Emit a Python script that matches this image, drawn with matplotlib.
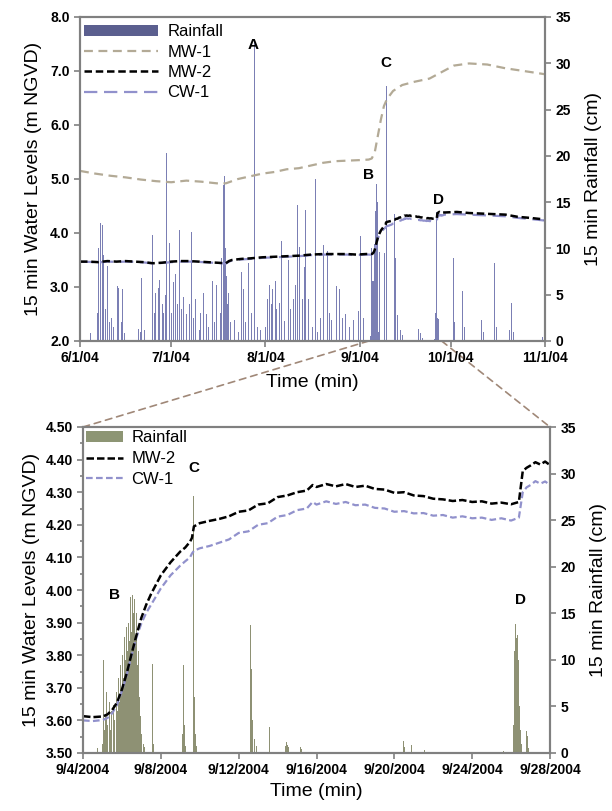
import numpy as np
import pandas as pd
import matplotlib
matplotlib.use("Agg")
import matplotlib.pyplot as plt
import matplotlib.dates as mdates
from matplotlib.patches import Patch, ConnectionPatch
from matplotlib.lines import Line2D
from matplotlib.ticker import FuncFormatter, MultipleLocator

plt.rcParams['font.family'] = ['Liberation Sans', 'DejaVu Sans']

# ---------------- DATA ----------------
top_start = "2004-06-01"
bot_start = "2004-09-04"
bot_offset_days = 95  # 9/4 relative to 6/1

# Top chart water levels (days since 6/1/04, m NGVD)
mw1_days = [0, 5, 10, 15, 20, 25, 30, 35, 40, 45, 48, 52, 56, 60, 64, 68, 72, 76, 80, 84, 88, 92,
            95, 96, 97, 98, 99, 100, 101, 103, 106, 110, 115, 119, 123, 128, 134, 140, 146, 153]
mw1_vals = [5.15, 5.10, 5.06, 5.03, 4.99, 4.96, 4.94, 4.97, 4.95, 4.92, 4.92, 5.00, 5.05, 5.10, 5.13,
            5.18, 5.20, 5.25, 5.30, 5.33, 5.34, 5.35, 5.36, 5.38, 5.50, 5.80, 6.10, 6.35, 6.48, 6.63,
            6.74, 6.80, 6.86, 6.98, 7.10, 7.14, 7.12, 7.05, 7.00, 6.94]

mw2_early_days = [0, 3, 6, 9, 12, 15, 18, 21, 24, 27, 30, 33, 36, 39, 42, 45, 48, 49, 50, 53, 56,
                  60, 64, 68, 72, 76, 80, 84, 88, 91, 94]
mw2_early_vals = [3.47, 3.47, 3.46, 3.48, 3.47, 3.48, 3.47, 3.46, 3.44, 3.45, 3.47, 3.48, 3.48, 3.47,
                  3.46, 3.45, 3.44, 3.48, 3.50, 3.52, 3.53, 3.55, 3.56, 3.57, 3.58, 3.60, 3.61, 3.61,
                  3.61, 3.60, 3.61]
cw1_early_vals = [3.465, 3.465, 3.455, 3.47, 3.465, 3.47, 3.465, 3.455, 3.435, 3.445, 3.46, 3.47,
                  3.47, 3.465, 3.455, 3.445, 3.435, 3.47, 3.49, 3.51, 3.52, 3.54, 3.55, 3.56, 3.57,
                  3.59, 3.60, 3.60, 3.60, 3.59, 3.60]

late_days = [120, 124, 128, 132, 136, 140, 144, 148, 153]
mw2_late_vals = [4.38, 4.39, 4.37, 4.36, 4.35, 4.34, 4.30, 4.28, 4.25]
cw1_late_vals = [4.34, 4.35, 4.34, 4.33, 4.32, 4.31, 4.28, 4.26, 4.23]

# Bottom chart water levels (days since 9/4/04)
bot_days = [0.0, 0.5, 1.0, 1.25, 1.5, 1.75, 2.0, 2.25, 2.5, 2.75, 3.0, 3.25, 3.5, 4.0, 4.5, 5.0,
            5.25, 5.5, 5.6, 5.7, 6.0, 6.5, 7.0, 7.5, 8.0, 8.5, 9.0, 9.5, 10.0, 10.5, 11.0, 11.5,
            11.8, 12.0, 12.5, 13.0, 13.5, 14.0, 14.5, 15.0, 15.5, 16.0, 16.5, 17.0, 17.5, 18.0,
            18.5, 19.0, 19.5, 20.0, 20.5, 21.0, 21.5, 22.0, 22.4, 22.6, 22.8, 23.0, 23.25, 23.5,
            23.75, 24.0]
mw2_bot_vals = [3.613, 3.610, 3.612, 3.618, 3.632, 3.655, 3.695, 3.745, 3.805, 3.862, 3.915, 3.955,
                3.988, 4.045, 4.085, 4.118, 4.130, 4.148, 4.160, 4.195, 4.205, 4.212, 4.218, 4.226,
                4.240, 4.244, 4.262, 4.266, 4.285, 4.290, 4.300, 4.305, 4.322, 4.316, 4.325, 4.318,
                4.325, 4.316, 4.320, 4.310, 4.308, 4.298, 4.300, 4.290, 4.288, 4.280, 4.278, 4.273,
                4.276, 4.270, 4.272, 4.265, 4.268, 4.263, 4.270, 4.365, 4.375, 4.382, 4.392, 4.385,
                4.394, 4.383]
cw1_bot_vals = [3.600, 3.598, 3.601, 3.607, 3.622, 3.648, 3.690, 3.740, 3.800, 3.855, 3.898, 3.930,
                3.955, 4.005, 4.045, 4.075, 4.088, 4.100, 4.112, 4.120, 4.128, 4.135, 4.145, 4.155,
                4.175, 4.180, 4.200, 4.205, 4.225, 4.230, 4.245, 4.250, 4.270, 4.262, 4.272, 4.264,
                4.270, 4.260, 4.262, 4.252, 4.250, 4.240, 4.242, 4.235, 4.236, 4.228, 4.230, 4.222,
                4.226, 4.220, 4.222, 4.215, 4.220, 4.213, 4.222, 4.300, 4.315, 4.322, 4.334, 4.326,
                4.333, 4.322]

# Rainfall (cm per 15 min)
rain_early_days = [3.5, 5.8, 6.0, 6.8, 7.3, 7.8, 8.3, 9.0, 9.6, 10.3, 10.9, 12.2, 12.8, 13.5, 14.1,
                   14.8, 19.3, 19.9, 20.2, 21.2, 24.0, 24.4, 25.0, 25.7, 26.3, 27.0, 27.6, 28.2,
                   28.6, 29.5, 30.2, 30.8, 31.5, 32.1, 32.7, 33.4, 34.0, 35.0, 35.9, 36.6, 37.2,
                   37.9, 39.2, 39.8, 40.7, 41.7, 42.4, 43.6, 44.3, 44.9, 46.2, 46.6, 47.1, 47.4,
                   47.6, 47.9, 48.1, 48.5, 48.8, 49.4, 50.7, 52.0, 53.0, 53.9, 54.6, 55.3, 56.5,
                   57.5, 58.4, 59.4, 61.0, 61.6, 62.3, 62.9, 63.3, 64.2, 64.8, 65.5, 66.4, 67.4,
                   68.7, 69.3, 70.2, 71.0, 71.5, 72.3, 73.2, 73.8, 74.3, 75.1, 76.4, 77.4, 78.3,
                   79.2, 80.2, 81.3, 82.2, 82.8, 84.3, 85.4, 86.4, 87.3, 88.6, 89.9, 91.5, 92.4,
                   93.3]
rain_early_vals = [0.9, 3.0, 10.0, 12.8, 12.5, 9.3, 3.5, 8.1, 2.0, 2.5, 1.5, 5.9, 5.7, 2.0, 5.6,
                   0.9, 1.3, 1.0, 6.8, 1.2, 11.5, 3.0, 5.2, 5.7, 6.6, 4.0, 3.0, 5.0, 20.3, 10.6,
                   3.0, 6.4, 7.2, 4.0, 12.0, 3.5, 4.8, 2.9, 4.0, 11.8, 2.5, 4.5, 1.2, 3.0, 5.2, 2.9,
                   1.5, 6.5, 2.0, 6.1, 3.0, 9.0, 16.9, 12.0, 17.8, 10.0, 7.0, 4.0, 5.2, 2.0, 2.3,
                   1.0, 7.4, 5.6, 2.0, 8.4, 3.0, 32.4, 1.5, 1.2, 1.5, 4.5, 6.1, 4.0, 5.6, 6.5, 3.5,
                   4.1, 10.8, 2.2, 8.8, 3.5, 4.5, 6.0, 14.7, 10.2, 4.5, 8.0, 14.2, 4.5, 1.5, 17.5,
                   1.0, 2.5, 10.4, 9.7, 3.0, 2.3, 5.9, 5.6, 2.5, 2.9, 1.5, 2.3, 3.2, 11.3, 2.5]

rain_bot_days = [0.74, 1.00, 1.04, 1.08, 1.15, 1.22, 1.28, 1.35, 1.42, 1.48, 1.55, 1.62, 1.70,
                 1.76, 1.82, 1.88, 1.94, 2.00, 2.05, 2.10, 2.15, 2.20, 2.25, 2.30, 2.35, 2.40,
                 2.45, 2.50, 2.55, 2.60, 2.65, 2.70, 2.75, 2.80, 2.85, 2.90, 2.95, 3.00, 3.10,
                 3.15, 3.55, 3.60, 5.10, 5.15, 5.20, 5.25, 5.69, 5.73, 5.78, 5.85, 8.60, 8.63,
                 8.67, 8.72, 8.80, 8.90, 9.56, 9.60, 10.40, 10.45, 10.50, 10.55, 11.20, 11.25,
                 16.45, 16.50, 16.90, 17.55, 21.60, 22.12, 22.17, 22.20, 22.25, 22.28, 22.32,
                 22.36, 22.40, 22.45, 22.50, 22.55, 22.80, 22.85, 22.90]
rain_bot_vals = [0.5, 1.0, 10.0, 2.5, 4.0, 6.5, 3.0, 5.5, 2.5, 4.5, 5.2, 3.5, 6.5, 4.5, 8.0, 5.5,
                 9.5, 7.0, 10.5, 8.0, 12.5, 10.0, 13.5, 11.0, 14.0, 12.0, 16.8, 13.0, 17.0, 15.0,
                 16.5, 12.0, 15.0, 9.5, 11.0, 6.0, 4.0, 2.0, 1.0, 0.6, 9.6, 1.0, 2.0, 9.5, 3.0,
                 0.8, 27.6, 6.0, 2.0, 0.8, 3.0, 13.7, 9.0, 3.5, 1.5, 0.8, 2.8, 1.2, 0.8, 1.2, 0.9,
                 0.6, 0.6, 0.4, 1.3, 0.6, 0.9, 0.3, 0.2, 3.0, 5.9, 11.0, 13.9, 12.3, 12.7, 10.0,
                 9.1, 5.0, 2.5, 1.0, 2.4, 1.8, 0.5]

rain_late_days = [122.8, 123.2, 125.8, 126.4, 132.2, 132.9, 136.5, 137.0, 141.2, 141.9, 142.5, 152.1]
rain_late_vals = [9.0, 2.0, 5.4, 1.5, 2.3, 1.0, 8.4, 1.5, 1.2, 4.1, 1.0, 0.4]

top_labels = ["A", "B", "C", "D"]
top_label_days = [57.1, 95.0, 100.5, 118.0]
top_label_vals = [7.48, 5.07, 7.14, 4.61]
bot_labels = ["B", "C", "D"]
bot_label_days = [1.64, 5.69, 22.5]
bot_label_vals = [3.985, 4.373, 3.97]

# ---------------- HELPERS ----------------
def to_dt(start, days):
    return pd.Timestamp(start) + pd.to_timedelta(np.asarray(days, dtype=float), unit="D")

SPINE = "#808080"
TOP_RAIN = "#7b7fb4"
TOP_RAIN_LEG = "#5b5f8f"
BOT_RAIN = "#8e9174"
BOT_RAIN_LEG = "#8d9574"
MW1_C = "#b3aa96"
CW1_C = "#9191cc"

fig = plt.figure(figsize=(6.12, 8.11), dpi=100)
ax1 = fig.add_axes([80/612, 1-341/811, (545-80)/612, (341-17)/811])
ax1r = ax1.twinx()
ax2 = fig.add_axes([83/612, 1-753/811, (550-83)/612, (753-427)/811])
ax2r = ax2.twinx()

for a in (ax1, ax2):
    a.set_zorder(3)
    a.patch.set_visible(False)
for a in (ax1r, ax2r):
    a.set_zorder(2)

# ---- top rainfall
top_rain_days = list(rain_early_days) + [d + bot_offset_days for d in rain_bot_days] + list(rain_late_days)
top_rain_vals = list(rain_early_vals) + list(rain_bot_vals) + list(rain_late_vals)
ax1r.bar(to_dt(top_start, top_rain_days), top_rain_vals, width=0.33, color=TOP_RAIN,
         linewidth=0, align="center")

# ---- top levels
mw2_top_days = list(mw2_early_days) + [d + bot_offset_days for d in bot_days] + late_days
mw2_top_vals = list(mw2_early_vals) + list(mw2_bot_vals) + mw2_late_vals
cw1_top_vals = list(cw1_early_vals) + list(cw1_bot_vals) + cw1_late_vals

ax1.plot(to_dt(top_start, mw1_days), mw1_vals, color=MW1_C, lw=1.6, ls=(0, (4, 2.5)))
ax1.plot(to_dt(top_start, mw2_top_days), cw1_top_vals, color=CW1_C, lw=1.6, ls=(0, (6, 3)))
ax1.plot(to_dt(top_start, mw2_top_days), mw2_top_vals, color="black", lw=1.8, ls=(0, (3, 1.5)))

ax1.set_ylim(2.0, 8.0)
ax1r.set_ylim(0, 35)
ax1.set_xlim(pd.Timestamp("2004-06-01"), pd.Timestamp("2004-11-01"))
ax1.yaxis.set_major_locator(MultipleLocator(1.0))
ax1.yaxis.set_major_formatter(FuncFormatter(lambda v, p: f"{v:.1f}"))
ax1r.yaxis.set_major_locator(MultipleLocator(5))
ax1.xaxis.set_major_locator(mdates.MonthLocator())
ax1.xaxis.set_major_formatter(FuncFormatter(
    lambda v, p: (lambda d: f"{d.month}/{d.day}/{d.year % 100:02d}")(mdates.num2date(v))))

for lab, d, v in zip(top_labels, top_label_days, top_label_vals):
    ax1.text(to_dt(top_start, [d])[0], v, lab, fontsize=11, fontweight="bold", ha="center", va="center")

leg1 = ax1.legend(handles=[Patch(facecolor=TOP_RAIN_LEG, edgecolor="none"),
                           Line2D([], [], color=MW1_C, lw=1.6, ls=(0, (4, 2.5))),
                           Line2D([], [], color="black", lw=1.8, ls=(0, (3, 1.5))),
                           Line2D([], [], color=CW1_C, lw=1.6, ls=(0, (6, 3)))],
                  labels=["Rainfall", "MW-1", "MW-2", "CW-1"],
                  loc="upper left", bbox_to_anchor=(0.0, 0.99), frameon=False, fontsize=12,
                  handlelength=4.4, handleheight=0.6, handletextpad=0.6, labelspacing=0.32,
                  borderpad=0.25, borderaxespad=0.0)

# ---- bottom rainfall
ax2r.bar(to_dt(bot_start, rain_bot_days), rain_bot_vals, width=0.05, color=BOT_RAIN,
         linewidth=0, align="center")

ax2.plot(to_dt(bot_start, bot_days), cw1_bot_vals, color=CW1_C, lw=1.6, ls=(0, (3, 1.5)))
ax2.plot(to_dt(bot_start, bot_days), mw2_bot_vals, color="black", lw=1.8, ls=(0, (3, 1.2)))

ax2.set_ylim(3.5, 4.5)
ax2r.set_ylim(0, 35)
ax2.set_xlim(pd.Timestamp("2004-09-04"), pd.Timestamp("2004-09-28"))
ax2.yaxis.set_major_locator(MultipleLocator(0.10))
ax2.yaxis.set_minor_locator(MultipleLocator(0.05))
ax2.yaxis.set_major_formatter(FuncFormatter(lambda v, p: f"{v:.2f}"))
ax2r.yaxis.set_major_locator(MultipleLocator(5))
ax2.xaxis.set_major_locator(mdates.DayLocator(bymonthday=[4, 8, 12, 16, 20, 24, 28]))
ax2.xaxis.set_major_formatter(FuncFormatter(
    lambda v, p: (lambda d: f"{d.month}/{d.day}/{d.year}")(mdates.num2date(v))))

for lab, d, v in zip(bot_labels, bot_label_days, bot_label_vals):
    ax2.text(to_dt(bot_start, [d])[0], v, lab, fontsize=11, fontweight="bold", ha="center", va="center")

leg2 = ax2.legend(handles=[Patch(facecolor=BOT_RAIN_LEG, edgecolor="none"),
                           Line2D([], [], color="black", lw=1.8, ls=(0, (3, 1.2))),
                           Line2D([], [], color=CW1_C, lw=1.6, ls=(0, (3, 1.5)))],
                  labels=["Rainfall", "MW-2", "CW-1"],
                  loc="upper left", bbox_to_anchor=(0.0, 1.0), frameon=False, fontsize=12,
                  handlelength=2.2, handleheight=0.6, handletextpad=0.5, labelspacing=0.35,
                  borderpad=0.2, borderaxespad=0.0)

# ---- styling
for a in (ax1, ax1r, ax2, ax2r):
    for s in a.spines.values():
        s.set_color(SPINE)
        s.set_linewidth(1.5)
    a.tick_params(axis="both", which="both", color=SPINE, width=1.2, direction="out",
                  labelsize=10)
    a.tick_params(which="major", length=4)
    a.tick_params(which="minor", length=2.5)
    for t in a.get_xticklabels() + a.get_yticklabels():
        t.set_fontweight("bold")

ax1.set_ylabel("15 min Water Levels (m NGVD)", fontsize=14, labelpad=6)
ax1r.set_ylabel("15 min Rainfall (cm)", fontsize=14, labelpad=10)
ax1.set_xlabel("Time (min)", fontsize=14, labelpad=6)
ax2.set_ylabel("15 min Water Levels (m NGVD)", fontsize=14, labelpad=4)
ax2r.set_ylabel("15 min Rainfall (cm)", fontsize=14, labelpad=10)
ax2.set_xlabel("Time (min)", fontsize=14, labelpad=4)

# ---- zoom connectors
for xd, xa in ((pd.Timestamp("2004-09-04"), 0.0), (pd.Timestamp("2004-09-28"), 1.0)):
    con = ConnectionPatch(xyA=(mdates.date2num(xd), 2.0), coordsA=ax1.transData,
                          xyB=(xa, 1.0), coordsB=ax2.transAxes,
                          color="#a08878", lw=1.2, ls=(0, (4, 3)))
    fig.add_artist(con)

fig.savefig("out.png", dpi=100)
